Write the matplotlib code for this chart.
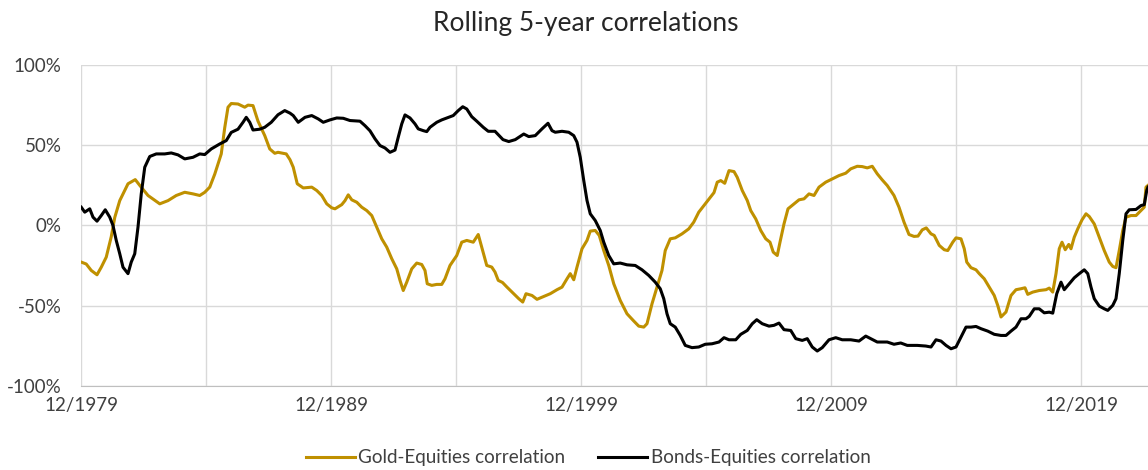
import numpy as np
import matplotlib
matplotlib.use('Agg')
import matplotlib.pyplot as plt

# rolling 5-year correlations, values in %, x in decimal years (12/1979 = 1979.92)
gold_years = [1979.93, 1980.13, 1980.33, 1980.56, 1980.73, 1980.93, 1981.13, 1981.27, 1981.47, 1981.80,
              1982.09, 1982.27, 1982.60, 1983.07, 1983.40, 1983.73, 1984.07, 1984.40, 1984.67, 1984.87,
              1985.07, 1985.27, 1985.53, 1985.67, 1985.80, 1985.93, 1986.20, 1986.47, 1986.60, 1986.80,
              1987.00, 1987.27, 1987.47, 1987.67, 1987.80, 1988.13, 1988.28, 1988.41, 1988.57, 1988.81,
              1989.15, 1989.35, 1989.55, 1989.75, 1989.95, 1990.08, 1990.35, 1990.48, 1990.61, 1990.75,
              1990.95, 1991.15, 1991.35, 1991.55, 1991.75, 1991.95, 1992.15, 1992.35, 1992.55, 1992.68,
              1992.81, 1992.95, 1993.15, 1993.35, 1993.55, 1993.68, 1993.77, 1993.95, 1994.15, 1994.35,
              1994.48, 1994.68, 1994.95, 1995.15, 1995.35, 1995.61, 1995.81, 1995.95, 1996.15, 1996.35,
              1996.48, 1996.61, 1996.78, 1996.96, 1997.23, 1997.43, 1997.59, 1997.72, 1997.96, 1998.16,
              1998.43, 1998.69, 1998.96, 1999.16, 1999.36, 1999.49, 1999.63, 1999.76, 1999.96, 2000.16,
              2000.29, 2000.49, 2000.65, 2000.83, 2001.03, 2001.23, 2001.49, 2001.76, 2002.03, 2002.23,
              2002.43, 2002.56, 2002.76, 2002.96, 2003.16, 2003.29, 2003.49, 2003.69, 2003.96, 2004.23,
              2004.43, 2004.63, 2004.89, 2005.09, 2005.24, 2005.37, 2005.51, 2005.67, 2005.84, 2006.04,
              2006.17, 2006.37, 2006.57, 2006.71, 2006.91, 2007.11, 2007.31, 2007.48, 2007.61, 2007.77,
              2007.88, 2008.04, 2008.20, 2008.44, 2008.64, 2008.84, 2009.04, 2009.24, 2009.44, 2009.71,
              2009.97, 2010.24, 2010.51, 2010.71, 2010.97, 2011.17, 2011.37, 2011.57, 2011.77, 2011.97,
              2012.17, 2012.44, 2012.64, 2012.84, 2013.04, 2013.24, 2013.40, 2013.57, 2013.73, 2013.92,
              2014.05, 2014.25, 2014.45, 2014.59, 2014.79, 2014.92, 2015.12, 2015.25, 2015.35, 2015.52,
              2015.72, 2015.85, 2016.05, 2016.25, 2016.45, 2016.59, 2016.72, 2016.92, 2017.12, 2017.32,
              2017.52, 2017.68, 2017.79, 2017.99, 2018.25, 2018.52, 2018.65, 2018.79, 2018.92, 2019.05,
              2019.16, 2019.29, 2019.43, 2019.52, 2019.65, 2019.79, 2019.96, 2020.12, 2020.25, 2020.45,
              2020.65, 2020.85, 2021.05, 2021.19, 2021.32, 2021.45, 2021.59, 2021.72, 2021.92, 2022.12,
              2022.32, 2022.45, 2022.52, 2022.60]
gold_corr = [-22.8, -24, -28, -30.7, -26, -19.7, -7, 5, 15.5, 26,
             28.6, 25, 18.7, 13.5, 15.5, 18.7, 20.7, 19.7, 18.7, 20.7,
             23.9, 32, 44.6, 61, 73.7, 76, 75.7, 73.7, 75, 74.7,
             65, 56, 47.7, 45, 45.6, 44.6, 41, 36.3, 26, 23.4,
             23.9, 21.8, 18.7, 13.5, 11, 10.4, 13, 15.5, 19.1, 16,
             14.5, 11.4, 9.3, 6.2, -1, -8.3, -13.5, -20.7, -27, -34.2,
             -40.5, -35.3, -27, -23.4, -24.3, -28, -36.3, -37.3, -36.7, -36.7,
             -33.2, -24.9, -18.7, -10.4, -9.3, -10.4, -5.6, -13.5, -24.9, -25.9,
             -29, -34.2, -35.5, -38.4, -42.5, -45.6, -47.7, -42.5, -43.6, -46,
             -44.2, -42.5, -40, -38.4, -33.2, -30, -33.8, -25.9, -14.5, -9.3,
             -3.5, -3.1, -6.2, -15.6, -24.9, -36.3, -46.7, -55, -59.5, -62.7,
             -63.3, -61.2, -48.8, -38.4, -28, -15.6, -8.3, -7.7, -5.2, -2.1,
             2.1, 8.3, 13.5, 17.6, 20.5, 27, 28, 26.3, 34.2, 33.6,
             30, 21.8, 15.6, 9.3, 4.1, -3.1, -8.3, -10.4, -16.6, -18.7,
             -10.4, 1, 10.4, 13.5, 16, 16.6, 19.7, 18.7, 23.9, 27,
             29, 31.1, 32.6, 35.3, 36.9, 36.7, 35.9, 36.9, 32.2, 28.4,
             24.9, 18.7, 11.4, 2.1, -5.6, -6.8, -6.6, -2.7, -1.5, -5.2,
             -6.2, -12.4, -15.1, -15.6, -10.4, -7.7, -8.3, -14.5, -22.8, -26.3,
             -27.6, -30, -33.2, -38.4, -43.6, -49.8, -57, -53.9, -43.6, -40,
             -39.4, -38.8, -42.9, -41.5, -40.5, -40, -39, -41.5, -30, -14.5,
             -10.4, -15.1, -11.8, -14.5, -7.3, -2.1, 3.5, 7.3, 5.6, 1,
             -7.3, -15.6, -22.8, -25.5, -26.3, -15.6, -3.1, 5.2, 6.2, 6.2,
             9.3, 11.4, 23.9, 25]

bonds_years = [1979.93, 1980.07, 1980.27, 1980.40, 1980.56, 1980.73, 1980.89, 1981.07, 1981.20, 1981.33,
               1981.47, 1981.60, 1981.80, 1981.93, 1982.07, 1982.20, 1982.33, 1982.47, 1982.67, 1982.93,
               1983.27, 1983.53, 1983.80, 1984.07, 1984.40, 1984.67, 1984.87, 1985.13, 1985.47, 1985.73,
               1985.93, 1986.20, 1986.40, 1986.53, 1986.67, 1986.80, 1987.07, 1987.27, 1987.53, 1987.80,
               1988.07, 1988.28, 1988.41, 1988.61, 1988.88, 1989.15, 1989.41, 1989.61, 1989.88, 1990.15,
               1990.41, 1990.68, 1991.08, 1991.28, 1991.48, 1991.68, 1991.88, 1992.08, 1992.28, 1992.48,
               1992.61, 1992.75, 1992.88, 1993.08, 1993.28, 1993.41, 1993.61, 1993.75, 1993.88, 1994.15,
               1994.35, 1994.55, 1994.81, 1995.01, 1995.19, 1995.35, 1995.55, 1995.75, 1996.01, 1996.21,
               1996.48, 1996.68, 1996.80, 1997.03, 1997.29, 1997.63, 1997.83, 1998.09, 1998.36, 1998.60,
               1998.76, 1998.89, 1999.16, 1999.43, 1999.63, 1999.76, 1999.89, 2000.03, 2000.16, 2000.29,
               2000.49, 2000.69, 2000.83, 2001.03, 2001.23, 2001.49, 2001.76, 2002.09, 2002.36, 2002.63,
               2002.89, 2003.09, 2003.23, 2003.36, 2003.49, 2003.69, 2003.89, 2004.09, 2004.36, 2004.63,
               2004.89, 2005.16, 2005.44, 2005.64, 2005.84, 2006.11, 2006.31, 2006.57, 2006.77, 2006.95,
               2007.17, 2007.44, 2007.64, 2007.84, 2008.04, 2008.31, 2008.51, 2008.77, 2008.97, 2009.17,
               2009.37, 2009.57, 2009.84, 2010.11, 2010.37, 2010.71, 2011.04, 2011.31, 2011.51, 2011.77,
               2012.17, 2012.44, 2012.71, 2012.97, 2013.37, 2013.71, 2013.92, 2014.12, 2014.32, 2014.52,
               2014.72, 2014.92, 2015.12, 2015.32, 2015.52, 2015.72, 2015.92, 2016.19, 2016.45, 2016.72,
               2016.92, 2017.12, 2017.32, 2017.52, 2017.72, 2017.85, 2018.05, 2018.25, 2018.45, 2018.65,
               2018.79, 2018.95, 2019.12, 2019.25, 2019.43, 2019.65, 2019.85, 2020.05, 2020.19, 2020.32,
               2020.45, 2020.65, 2020.85, 2020.99, 2021.19, 2021.32, 2021.45, 2021.59, 2021.72, 2021.85,
               2022.12, 2022.32, 2022.45, 2022.55, 2022.60]
bonds_corr = [11.4, 8.3, 10.4, 5.2, 2.7, 6.2, 9.8, 5.2, 0, -9.3,
              -17.6, -26, -30, -22.8, -17.6, -1, 19.7, 36.3, 43, 44.6,
              44.6, 45.2, 44, 41.5, 42.5, 44.6, 44.2, 47.7, 50.8, 52.9,
              58, 60, 64.3, 67.4, 64.3, 59.5, 60, 61.2, 64.3, 69,
              71.6, 70, 68.5, 64.3, 67.4, 68.5, 66.4, 64.3, 65.8, 67,
              66.8, 65.4, 65, 62.2, 59, 54, 49.8, 48.3, 45.6, 47,
              55, 63.3, 68.9, 67, 63.3, 60.2, 59.1, 58.5, 61.2, 64.3,
              65.8, 67, 68.5, 71.6, 74, 72.6, 67.8, 65, 61.2, 58.7,
              58.7, 55.4, 53.5, 52.3, 53.5, 57, 55.4, 56, 60.2, 63.7,
              59.1, 58.1, 58.7, 58.1, 56, 51.9, 42.5, 28, 15.6, 7.3,
              3.1, -3.1, -10.4, -18.7, -23.9, -23.4, -24.5, -24.9, -27.6, -31.1,
              -35.3, -39.4, -45.6, -55, -61.2, -63.3, -68.5, -74.7, -76.1, -75.7,
              -74, -73.7, -72.6, -69.9, -71.2, -71.2, -67.8, -65.4, -61.2, -58.7,
              -61.2, -62.7, -62.2, -60.8, -64.9, -65.4, -70.5, -71.6, -70.5, -75.7,
              -78.2, -76.1, -71.2, -69.9, -71.2, -71.2, -72, -68.9, -70.5, -72.6,
              -72.6, -74, -73.2, -74.7, -74.7, -75.1, -75.7, -71.2, -72, -74.7,
              -76.8, -75.7, -69.5, -63.3, -63.3, -62.9, -64.3, -65.8, -67.8, -68.5,
              -68.5, -65.8, -63.3, -58.1, -58.1, -56.6, -51.9, -51.9, -54.4, -54,
              -54.6, -42.5, -35.3, -40, -36.7, -32.6, -30, -27.6, -30, -38.4,
              -45.6, -50.2, -51.9, -52.9, -49.8, -45.6, -30, -9.3, 7.3, 9.8,
              10, 12.4, 13, 21.8, 23.9]

grid_years = [1979.92, 1984.92, 1989.92, 1994.92, 1999.92, 2004.92, 2009.92, 2014.92, 2019.92]
x_tick_labels = ['12/1979', '', '12/1989', '', '12/1999', '', '12/2009', '', '12/2019']
y_ticks = [-100, -50, 0, 50, 100]

gold_col = '#BF9000'
text_col = '#404040'
plt.rcParams['font.family'] = ['Lato', 'DejaVu Sans']

fig = plt.figure(figsize=(11.48, 4.70), dpi=100)
ax = fig.add_axes([81/1148, 84/470, 1067/1148, 321/470])

ax.plot(gold_years, gold_corr, color=gold_col, lw=2.2, label='Gold-Equities correlation', solid_joinstyle='round')
ax.plot(bonds_years, bonds_corr, color='black', lw=2.2, label='Bonds-Equities correlation', solid_joinstyle='round')

ax.set_xlim(1979.92, 2022.6)
ax.set_ylim(-100, 100)
ax.set_xticks(grid_years)
ax.set_xticklabels(x_tick_labels)
ax.set_yticks(y_ticks)
ax.set_yticklabels([str(v) + '%' for v in y_ticks])
ax.grid(True, color='#D9D9D9', lw=1.0)
ax.set_axisbelow(True)
for s in ['top', 'right', 'left']:
    ax.spines[s].set_visible(False)
ax.spines['bottom'].set_color('#BFBFBF')
ax.tick_params(length=0, labelsize=13.5, colors=text_col, pad=8)
ax.tick_params(axis='y', pad=14)

fig.text(586/1148, 1 - 23/470, 'Rolling 5-year correlations', ha='center', va='center', fontsize=19, color='#262626')
fig.legend(loc='center', bbox_to_anchor=(588/1148, 1 - 458/470), ncol=2, frameon=False,
           fontsize=13.6, handlelength=2.6, columnspacing=1.7, handletextpad=0.2, labelcolor=text_col)

fig.savefig('out.png', dpi=100)
